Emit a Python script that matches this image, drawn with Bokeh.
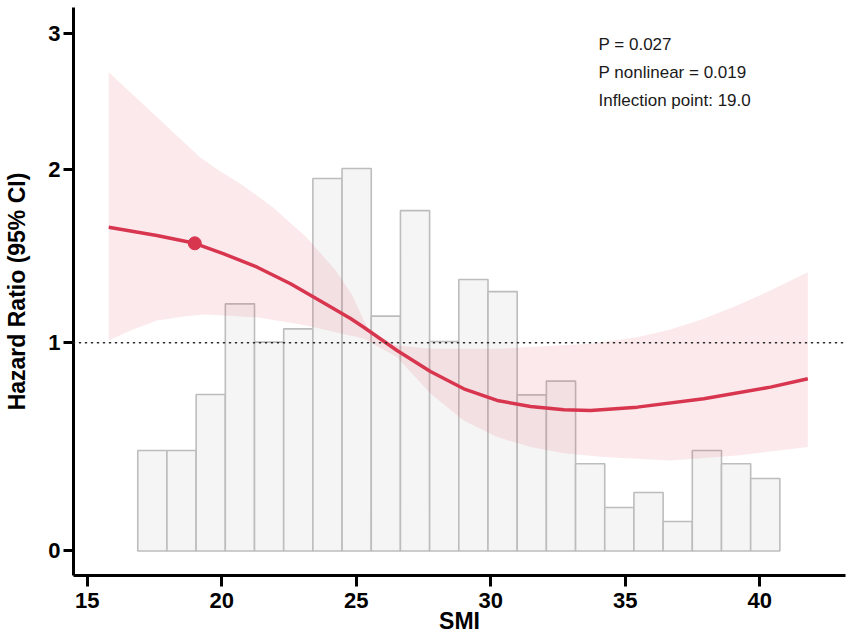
import numpy as np
from bokeh.plotting import figure
from bokeh.models import Range1d, FixedTicker, Span, ColumnDataSource
from bokeh.core.properties import value
from bokeh.embed import file_html
from bokeh.resources import INLINE

# ---------------- data ----------------
# Hazard-ratio curve (restricted cubic spline) vs SMI
curve_smi = [15.80, 17.59, 19.00, 20.08, 21.32, 22.56, 23.80, 24.79, 25.28, 26.52,
             27.76, 29.00, 30.24, 31.48, 32.72, 33.71, 35.45, 37.92, 40.40, 41.79]
curve_hr = [1.668, 1.620, 1.575, 1.514, 1.437, 1.341, 1.230, 1.140, 1.090, 0.963,
            0.862, 0.779, 0.723, 0.694, 0.678, 0.675, 0.691, 0.731, 0.787, 0.827]

# 95% CI upper bound
ci_upper_smi = [15.80, 17.59, 19.19, 19.95, 20.68, 21.90, 23.15, 24.24, 24.86, 25.28,
                25.65, 26.10, 26.52, 27.76, 30.24, 33.71, 35.45, 36.69, 37.92, 39.16,
                40.40, 41.79]
ci_upper_hr = [2.717, 2.387, 2.092, 1.990, 1.921, 1.784, 1.610, 1.418, 1.273, 1.129,
               1.032, 1.002, 0.987, 0.971, 0.971, 0.995, 1.032, 1.077, 1.139, 1.216,
               1.302, 1.408]

# 95% CI lower bound
ci_lower_smi = [15.80, 16.61, 17.59, 18.58, 19.37, 21.32, 23.15, 24.24, 25.28, 26.52,
                27.76, 29.00, 30.24, 31.48, 32.72, 34.20, 36.69, 39.16, 41.79]
ci_lower_hr = [1.013, 1.071, 1.129, 1.152, 1.164, 1.148, 1.100, 1.061, 1.025, 0.931,
               0.756, 0.627, 0.547, 0.499, 0.470, 0.452, 0.435, 0.459, 0.499]

# inflection point
inflect_smi = [19.0]
inflect_hr = [1.575]

# SMI distribution histogram (bar heights in axis units)
hist_start = 16.88
hist_width = 1.085
hist_heights = [0.483, 0.483, 0.752, 1.187, 1.003, 1.067, 1.789, 1.837, 1.128, 1.635, 1.006,
                1.304, 1.246, 0.750, 0.816, 0.419, 0.209, 0.281, 0.142, 0.483, 0.419, 0.348]

# y axis: hazard-ratio tick labels and their (non-linear) axis positions
hr_ticks = [0, 1, 2, 3]
hr_tick_pos = [0.0, 1.0, 1.831, 2.485]
x_ticks = [15, 20, 25, 30, 35, 40]

stats_text = ["P = 0.027", "P nonlinear = 0.019", "Inflection point: 19.0"]


def to_axis(v):
    return np.interp(np.asarray(v, dtype=float), hr_ticks, hr_tick_pos)


RED = "#D8354F"
FONT = "Liberation Sans"

p = figure(width=851, height=641,
           x_range=Range1d(14.491, 43.19), y_range=Range1d(-0.1177, 2.6105),
           output_backend="svg", toolbar_location=None,
           min_border_left=73, min_border_right=6, min_border_top=7, min_border_bottom=66)
p.grid.visible = False
p.outline_line_color = None
p.background_fill_color = "white"
p.border_fill_color = "white"

# histogram
n = len(hist_heights)
lefts = hist_start + hist_width * np.arange(n)
hist_src = ColumnDataSource(dict(left=lefts, right=lefts + hist_width,
                                 top=hist_heights, bottom=[0.0] * n))
p.quad(left="left", right="right", top="top", bottom="bottom", source=hist_src,
       fill_color="#F6F5F5", line_color="#BDBDBD", line_width=1.6)

# confidence band
band_x = list(ci_upper_smi) + list(ci_lower_smi[::-1])
band_y = list(to_axis(ci_upper_hr)) + list(to_axis(ci_lower_hr[::-1]))
p.patch(band_x, band_y, fill_color=RED, fill_alpha=0.11, line_color=None)

# reference line HR = 1
p.add_layout(Span(location=float(to_axis(1.0)), dimension="width",
                  line_color="#222222", line_width=1.6, line_dash="1 5", line_cap="round"))

# curve and inflection point
p.line(curve_smi, to_axis(curve_hr), line_color=RED, line_width=3.5, line_join="round")
p.scatter(inflect_smi, to_axis(inflect_hr), size=13, fill_color=RED, line_color=RED)

# statistics text
p.text(x=[34.01] * 3, y=[2.433, 2.2997, 2.164], text=stats_text,
       text_font=value(FONT), text_font_size="17px", text_baseline="middle",
       text_align="left", text_color="#1a1a1a")

# axes
p.xaxis.ticker = FixedTicker(ticks=x_ticks)
p.yaxis.ticker = FixedTicker(ticks=hr_tick_pos)
p.yaxis.major_label_overrides = {pos: str(t) for pos, t in zip(hr_tick_pos, hr_ticks)}
p.xaxis.axis_label = "SMI"
p.yaxis.axis_label = "Hazard Ratio (95% CI)"
for ax in (p.xaxis, p.yaxis):
    ax.axis_line_width = 3
    ax.axis_line_color = "black"
    ax.major_tick_line_width = 3
    ax.major_tick_line_color = "black"
    ax.major_tick_in = 0
    ax.minor_tick_line_color = None
    ax.major_label_text_font = FONT
    ax.major_label_text_font_style = "bold"
    ax.major_label_text_font_size = "22px"
    ax.major_label_text_color = "black"
    ax.axis_label_text_font = FONT
    ax.axis_label_text_font_style = "bold"
    ax.axis_label_text_font_size = "23px"
    ax.axis_label_text_color = "black"
p.xaxis.major_tick_out = 11
p.xaxis.major_label_standoff = 6
p.xaxis.axis_label_standoff = -3
p.yaxis.major_tick_out = 10
p.yaxis.major_label_standoff = 3
p.yaxis.axis_label_standoff = 15

open("out.html", "w").write(file_html(p, INLINE))
